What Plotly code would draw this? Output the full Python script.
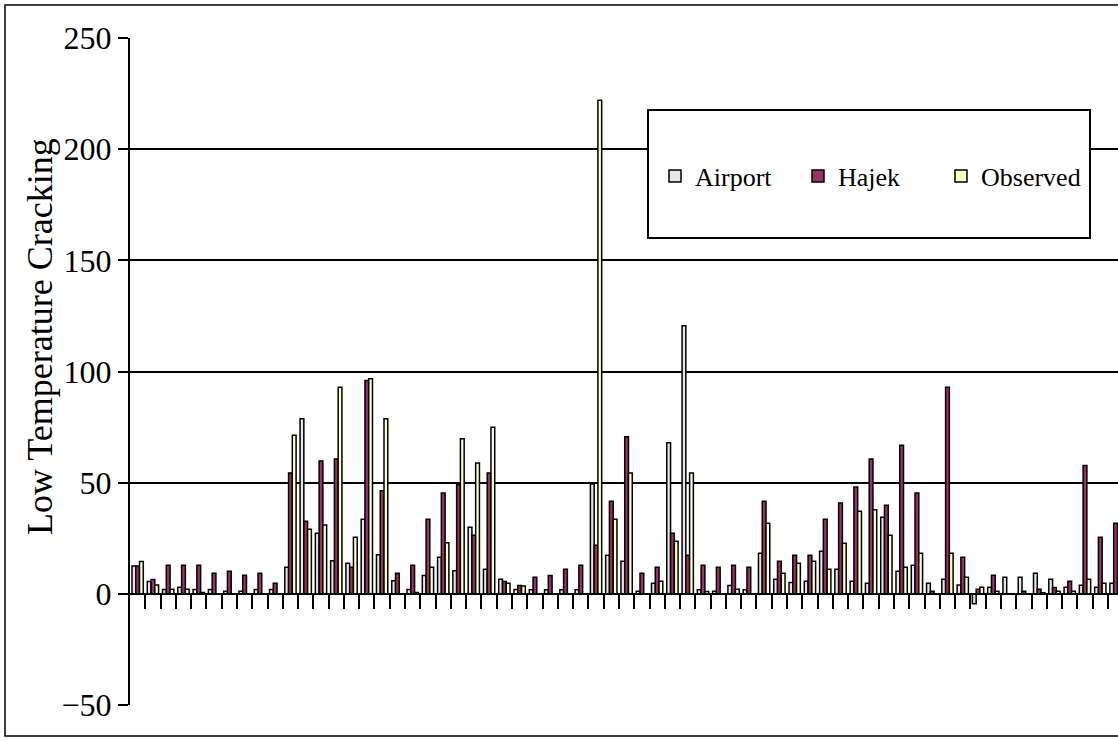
import plotly.graph_objects as go

categories = list(range(65))

airport = [12.5, 5.5, 2, 3, 2, 2, 1.2, 1.2, 2, 2,
           12, 78.7, 27.3, 14.9, 13.8, 33.6, 17.6, 5.9, 2, 8.3,
           16.5, 10.4, 29.9, 11.1, 6.6, 2, 1.8, 1.8, 1.8, 1.8,
           49.4, 17.4, 14.7, 1.2, 4.8, 67.9, 120.6, 1.8, 1.2, 3.8,
           1.8, 18.3, 6.6, 5.1, 5.7, 19.2, 11.1, 5.7, 4.8, 34.5,
           10.2, 12.8, 4.8, 6.6, 4, -4.5, 3, 7.5, 7.5, 9.3,
           6.6, 3, 3.9, 3, 4.8]

hajek = [12.5, 6.5, 12.8, 12.8, 12.8, 9.3, 10.2, 8.4, 9.3, 4.8,
         54.4, 32.6, 59.8, 60.7, 12, 96, 46.4, 9.3, 12.8, 33.6,
         45.3, 49.1, 26.3, 54.4, 5.6, 3.8, 7.5, 8.3, 11.1, 12.9,
         21.8, 41.6, 70.6, 9.3, 12, 27.3, 17.3, 12.8, 12, 12.8,
         12, 41.6, 14.7, 17.3, 17.3, 33.6, 40.8, 48, 60.7, 39.8,
         66.8, 45.3, 1.2, 92.9, 16.5, 2.1, 8.4, 0, 1.2, 2.1,
         2.9, 5.7, 57.7, 25.4, 31.8]

observed = [14.5, 4, 2.1, 2.1, 0.6, 0, 0, 0, 0, 0,
            71.3, 29, 31, 92.9, 25.5, 96.7, 78.7, 0, 0.6, 12,
            23, 69.7, 58.9, 74.9, 4.8, 3.5, 0, 0, 0, 0,
            222, 33.6, 54.4, 0, 5.7, 23.6, 54.4, 1, 0, 2.1,
            0, 31.8, 9.3, 13.8, 14.7, 11.1, 22.8, 37.1, 37.8, 26.3,
            12, 18.3, 0, 18.3, 7.5, 3, 1.2, 0, 0, 0.5,
            1.2, 1.2, 6.6, 4.8, 0]

y_ticks = [-50, 0, 50, 100, 150, 200, 250]

FONT = "Liberation Serif, Times New Roman, serif"
W, H = 1118, 741
L, R, T, B = 130, 0, 38, 36
PW, PH = W - L - R, H - T - B


def px(x):
    return (x - L) / PW


def py(y):
    return (H - B - y) / PH


fig = go.Figure()
for name, vals, col in [("Airport", airport, "#E6E6E6"),
                        ("Hajek", hajek, "#993366"),
                        ("Observed", observed, "#FFFFCC")]:
    fig.add_trace(go.Bar(x=categories, y=vals, name=name,
                         marker=dict(color=col, line=dict(color="black", width=1.5))))

fig.update_layout(
    width=W, height=H,
    margin=dict(l=L, r=R, t=T, b=B, autoexpand=False),
    paper_bgcolor="white", plot_bgcolor="white",
    barmode="group", bargap=0.26, bargroupgap=0,
    font=dict(family=FONT, color="black"),
    showlegend=True,
    legend=dict(orientation="h", x=px(655), y=py(176), xanchor="left", yanchor="middle",
                font=dict(family=FONT, size=26, color="black"),
                bgcolor="rgba(0,0,0,0)", borderwidth=0,
                entrywidth=98, entrywidthmode="pixels"),
    xaxis=dict(range=[-0.5, -0.5 + PW / 15.28], anchor="free", position=1 / 6,
               tickmode="array", tickvals=[i + 0.5 for i in range(64)],
               ticks="outside", ticklen=14, tickwidth=2, tickcolor="black",
               showticklabels=False, showgrid=False, zeroline=False,
               showline=True, linecolor="black", linewidth=2),
    yaxis=dict(range=[-50, 250], tickmode="array", tickvals=y_ticks,
               ticks="outside", ticklen=10, tickwidth=2, tickcolor="black",
               tickfont=dict(family=FONT, size=32, color="black"),
               showgrid=True, gridcolor="black", gridwidth=2,
               zeroline=True, zerolinecolor="black", zerolinewidth=2,
               showline=True, linecolor="black", linewidth=2),
    shapes=[
        dict(type="rect", xref="paper", yref="paper",
             x0=px(648), x1=px(1090), y0=py(238), y1=py(110),
             fillcolor="white", line=dict(color="black", width=2), layer="above"),
        dict(type="rect", xref="paper", yref="paper",
             x0=px(5), x1=px(1130), y0=py(736), y1=py(5),
             fillcolor="rgba(0,0,0,0)", line=dict(color="black", width=1.5), layer="above"),
    ],
    annotations=[
        dict(text="Low Temperature Cracking", xref="paper", yref="paper",
             x=px(40), y=py(337), xanchor="center", yanchor="middle",
             textangle=-90, showarrow=False,
             font=dict(family=FONT, size=36, color="black")),
    ],
)

fig.write_html("out.html", config={"displayModeBar": False},
               post_script="document.body.style.margin='0';document.body.style.overflow='hidden';")
